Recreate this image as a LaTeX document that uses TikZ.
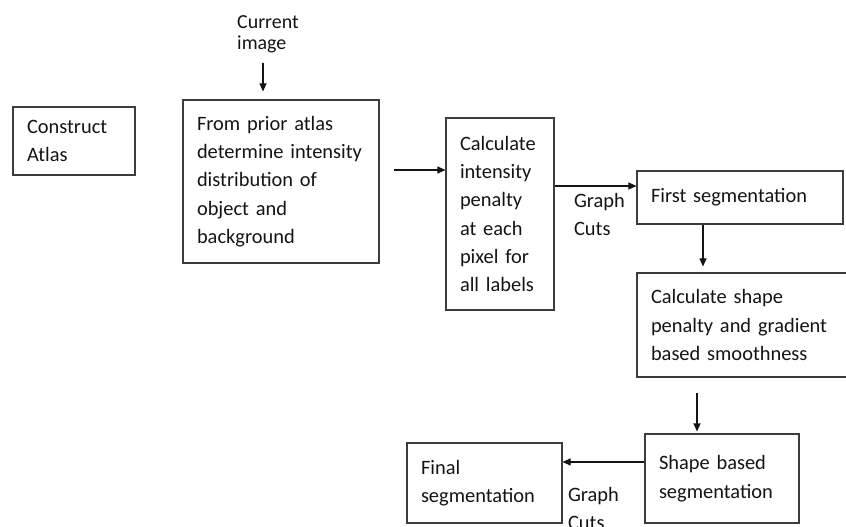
\documentclass[tikz,border=0pt]{standalone}
\usepackage{fontspec}
\setmainfont{Carlito}
\usepackage{tikz}
\usetikzlibrary{arrows.meta, positioning}
\usepackage{xcolor}
\definecolor{linegray}{RGB}{60,60,60}
\definecolor{inkblack}{RGB}{20,20,20}
\tikzset{
  block/.style={
    rectangle, draw=linegray, line width=1.1bp,
    align=left, inner xsep=14bp, inner ysep=0pt,
    text=inkblack, font=\fontsize{20.5}{28.5}\selectfont
  },
  cutnote/.style={
    align=left, inner sep=0pt, text=inkblack,
    font=\fontsize{20.5}{28}\selectfont
  },
  arrow/.style={-{Triangle[length=8bp, width=7bp]}, line width=1.1bp, color=inkblack},
}

\begin{document}
\begin{tikzpicture}[x=1bp, y=-1bp]
  \clip (0,0) rectangle (846,527);

  \node[block, text width=94bp, minimum height=68bp] (atlas) at (74,141) {Construct\\Atlas};
  \node[block, text width=168bp, minimum height=163bp] (prior) at (281,181.5)
    {From prior atlas\\determine intensity\\distribution of\\object and\\background};
  \node[cutnote, anchor=north west, font=\fontsize{20}{21}\selectfont] (cur) at (237,15) {Current\\image};
  \node[block, text width=80bp, minimum height=192bp] (calc) at (500,214)
    {Calculate\\intensity\\penalty\\at each\\pixel for\\all labels};
  \node[block, text width=178bp, minimum height=53bp] (first) at (740,197.5) {First segmentation};
  \node[block, text width=187bp, minimum height=104bp] (shape) at (744.5,325)
    {Calculate shape\\penalty and gradient\\based smoothness};
  \node[block, text width=126bp, minimum height=89bp] (shapeseg) at (722,478.5) {Shape based\\segmentation};
  \node[block, text width=127bp, minimum height=80bp] (final) at (484.5,483) {Final\\segmentation};

  \draw[arrow, shorten <=10bp, shorten >=8bp] ([xshift=-5bp]cur.south) -- ([xshift=-5bp]cur.south |- prior.north);
  \draw[arrow, shorten <=14bp] ([yshift=11.5bp]prior.east) -- ([yshift=11.5bp]prior.east -| calc.west);
  \draw[arrow] ([yshift=28bp]calc.east) -- ([yshift=28bp]calc.east -| first.west)
    node[cutnote, midway, below=7bp, xshift=4bp] (gc1) {Graph\\Cuts};
  \draw[arrow, shorten >=6bp] ([xshift=-37bp]first.south) -- ([xshift=-37bp]first.south |- shape.north);
  \draw[arrow, shorten <=15bp, shorten >=2bp] ([xshift=-25bp]shapeseg.north |- shape.south) -- ([xshift=-25bp]shapeseg.north);
  \draw[arrow] ([yshift=16.5bp]shapeseg.west) -- ([yshift=16.5bp]shapeseg.west -| final.east)
    node[cutnote, midway, below=25bp, xshift=-10bp] (gc2) {Graph\\Cuts};
\end{tikzpicture}
\end{document}
